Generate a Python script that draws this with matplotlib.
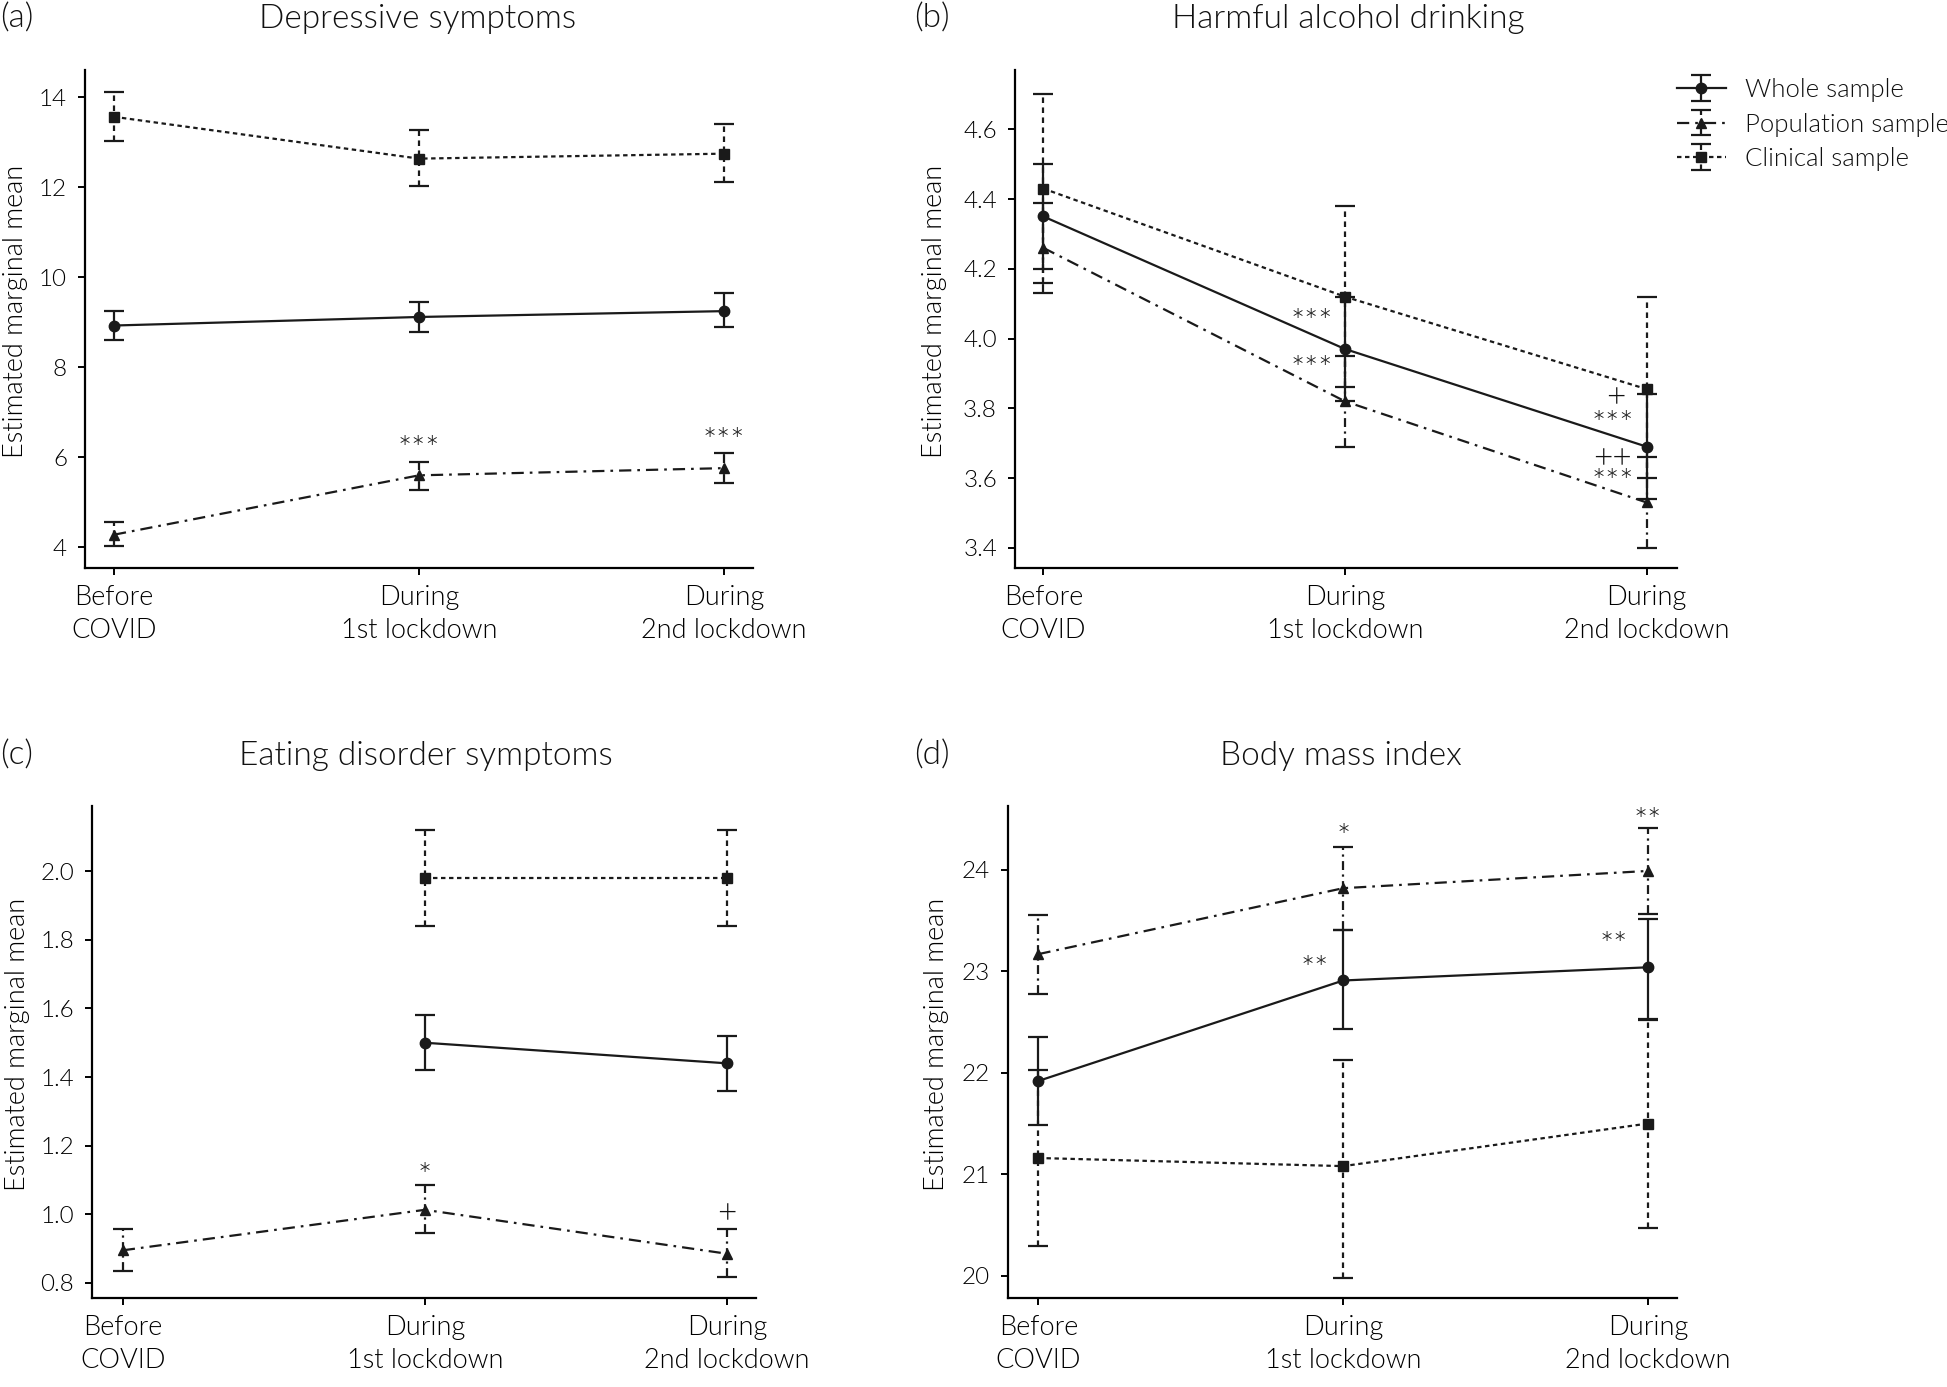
import numpy as np
import matplotlib
matplotlib.use('Agg')
import matplotlib.pyplot as plt
from matplotlib.ticker import FormatStrFormatter

plt.rcParams['font.family'] = ['Lato', 'DejaVu Sans']
plt.rcParams['font.weight'] = 300
plt.rcParams['axes.labelweight'] = 300
plt.rcParams['text.color'] = '#111111'

# ---------------------------------------------------------------------------
# data (estimated marginal means with lower / upper CI)
# ---------------------------------------------------------------------------
time_labels = ['Before\nCOVID', 'During\n1st lockdown', 'During\n2nd lockdown']
series_names = ['Whole sample', 'Population sample', 'Clinical sample']

dep_whole = [8.93, 9.12, 9.25]
dep_whole_lo = [8.60, 8.79, 8.89]
dep_whole_hi = [9.25, 9.45, 9.65]
dep_pop = [4.28, 5.60, 5.76]
dep_pop_lo = [4.02, 5.27, 5.44]
dep_pop_hi = [4.56, 5.90, 6.10]
dep_clin = [13.57, 12.64, 12.75]
dep_clin_lo = [13.03, 12.04, 12.12]
dep_clin_hi = [14.11, 13.27, 13.40]

alc_whole = [4.35, 3.97, 3.69]
alc_whole_lo = [4.20, 3.82, 3.54]
alc_whole_hi = [4.50, 4.12, 3.84]
alc_pop = [4.26, 3.82, 3.53]
alc_pop_lo = [4.13, 3.69, 3.40]
alc_pop_hi = [4.39, 3.95, 3.66]
alc_clin = [4.43, 4.12, 3.855]
alc_clin_lo = [4.16, 3.86, 3.60]
alc_clin_hi = [4.70, 4.38, 4.12]

eat_whole = [np.nan, 1.50, 1.44]
eat_whole_lo = [np.nan, 1.42, 1.36]
eat_whole_hi = [np.nan, 1.58, 1.52]
eat_pop = [0.895, 1.013, 0.885]
eat_pop_lo = [0.836, 0.946, 0.816]
eat_pop_hi = [0.956, 1.086, 0.956]
eat_clin = [np.nan, 1.98, 1.98]
eat_clin_lo = [np.nan, 1.84, 1.84]
eat_clin_hi = [np.nan, 2.12, 2.12]

bmi_whole = [21.92, 22.91, 23.04]
bmi_whole_lo = [21.49, 22.43, 22.53]
bmi_whole_hi = [22.35, 23.41, 23.52]
bmi_pop = [23.17, 23.82, 23.99]
bmi_pop_lo = [22.78, 23.41, 23.57]
bmi_pop_hi = [23.56, 24.23, 24.41]
bmi_clin = [21.16, 21.08, 21.50]
bmi_clin_lo = [20.29, 19.98, 20.47]
bmi_clin_hi = [22.03, 22.13, 22.52]

# significance marks: (x position, y value, text)
dep_marks = [(1, 6.33, '***'), (2, 6.51, '***')]
alc_marks = [(0.89, 4.065, '***'), (0.89, 3.93, '***'),
             (1.898, 3.834, '+'), (1.887, 3.773, '***'),
             (1.887, 3.66, '++'), (1.887, 3.607, '***')]
eat_marks = [(1, 1.13, '*'), (2, 1.006, '+')]
bmi_marks = [(1, 24.39, '*'), (2, 24.54, '**'),
             (0.906, 23.09, '**'), (1.888, 23.32, '**')]

# ---------------------------------------------------------------------------
# styles
# ---------------------------------------------------------------------------
LINE_DASH = {'whole': None, 'pop': (5.5, 2.7, 1.2, 2.7), 'clin': (2, 1.6)}
BAR_DASH = {'whole': None, 'pop': (4, 2, 1, 2), 'clin': (2.5, 2)}
MARKERS = {'whole': 'o', 'pop': '^', 'clin': 's'}
LW = 1.6
MARK_FS = 24
TITLE_FS = 24
FIG_W, FIG_H = 1947, 1387

fig = plt.figure(figsize=(FIG_W / 100, FIG_H / 100), dpi=100)


def px_axes(l, t, r, b):
    return fig.add_axes([l / FIG_W, 1 - b / FIG_H, (r - l) / FIG_W, (b - t) / FIG_H])


def draw_series(ax, key, y, lo, hi):
    y = np.array(y, dtype=float)
    err = np.vstack([y - np.array(lo, dtype=float), np.array(hi, dtype=float) - y])
    eb = ax.errorbar(range(len(y)), y, yerr=err, color='#1a1a1a', lw=LW,
                     marker=MARKERS[key], ms=7.5 if key != 'pop' else 7,
                     capsize=7.5, capthick=LW, elinewidth=LW)
    if LINE_DASH[key] is not None:
        eb[0].set_dashes(LINE_DASH[key])
        eb[2][0].set_linestyle((0, BAR_DASH[key]))
    return eb


def style_axes(ax, xlim, ylim, yticks, fmt, ylab_x):
    ax.set_xlim(*xlim)
    ax.set_ylim(*ylim)
    ax.set_xticks(range(len(time_labels)))
    ax.set_xticklabels(time_labels, fontsize=19.5, linespacing=1.4)
    ax.set_yticks(yticks)
    ax.yaxis.set_major_formatter(FormatStrFormatter(fmt))
    ax.tick_params(axis='y', labelsize=17.5, length=5, width=1.4, pad=8)
    ax.tick_params(axis='x', length=5, width=1.4, pad=7)
    for s in ('top', 'right'):
        ax.spines[s].set_visible(False)
    for s in ('left', 'bottom'):
        ax.spines[s].set_linewidth(1.6)
    ax.set_ylabel('Estimated marginal mean', fontsize=19.5)
    ax.yaxis.set_label_coords(ylab_x, 0.515)


def add_marks(ax, marks):
    for x, y, t in marks:
        off = -0.33 * MARK_FS if '+' in t else -0.52 * MARK_FS
        ax.annotate(t, (x, y), xytext=(0, off), textcoords='offset points',
                    ha='center', va='baseline', fontsize=MARK_FS)


panels = [
    # (axes px box, title, title centre x, tag, tag x, data, marks, ylim, yticks, fmt, xlim, ylabel x)
    ((85, 70, 753, 568), 'Depressive symptoms', 418, '(a)', 0,
     [('whole', dep_whole, dep_whole_lo, dep_whole_hi),
      ('pop', dep_pop, dep_pop_lo, dep_pop_hi),
      ('clin', dep_clin, dep_clin_lo, dep_clin_hi)],
     dep_marks, (3.54, 14.61), [4, 6, 8, 10, 12, 14], '%d', (-0.095, 2.095), -0.085),
    ((1015, 70, 1677, 568), 'Harmful alcohol drinking', 1348, '(b)', 914,
     [('whole', alc_whole, alc_whole_lo, alc_whole_hi),
      ('pop', alc_pop, alc_pop_lo, alc_pop_hi),
      ('clin', alc_clin, alc_clin_lo, alc_clin_hi)],
     alc_marks, (3.342, 4.77), [3.4, 3.6, 3.8, 4.0, 4.2, 4.4, 4.6], '%.1f', (-0.094, 2.101), -0.103),
    ((92, 806, 756, 1298), 'Eating disorder symptoms', 426, '(c)', 0,
     [('whole', eat_whole, eat_whole_lo, eat_whole_hi),
      ('pop', eat_pop, eat_pop_lo, eat_pop_hi),
      ('clin', eat_clin, eat_clin_lo, eat_clin_hi)],
     eat_marks, (0.756, 2.19), [0.8, 1.0, 1.2, 1.4, 1.6, 1.8, 2.0], '%.1f', (-0.102, 2.096), -0.093),
    ((1008, 806, 1677, 1298), 'Body mass index', 1341, '(d)', 914,
     [('whole', bmi_whole, bmi_whole_lo, bmi_whole_hi),
      ('pop', bmi_pop, bmi_pop_lo, bmi_pop_hi),
      ('clin', bmi_clin, bmi_clin_lo, bmi_clin_hi)],
     bmi_marks, (19.78, 24.63), [20, 21, 22, 23, 24], '%d', (-0.1, 2.095), -0.088),
]

title_baseline = {70: 28, 806: 765}
for box, title, title_x, tag, tag_x, series, marks, ylim, yticks, fmt, xlim, ylab_x in panels:
    ax = px_axes(*box)
    handles = [draw_series(ax, k, y, lo, hi) for k, y, lo, hi in series]
    style_axes(ax, xlim, ylim, yticks, fmt, ylab_x)
    add_marks(ax, marks)
    ty = 1 - title_baseline[box[1]] / FIG_H
    fig.text(title_x / FIG_W, ty, title, ha='center', va='baseline', fontsize=TITLE_FS)
    fig.text(tag_x / FIG_W, ty, tag, ha='left', va='baseline', fontsize=TITLE_FS)
    if tag == '(b)':
        ax.legend(handles, series_names, loc='upper left',
                  bbox_to_anchor=(1677 / FIG_W, 1 - 78 / FIG_H),
                  bbox_transform=fig.transFigure, frameon=False, fontsize=18.5,
                  handlelength=1.9, handletextpad=0.75, labelspacing=0.41,
                  borderpad=0, borderaxespad=0)

fig.savefig('out.png', dpi=100)
